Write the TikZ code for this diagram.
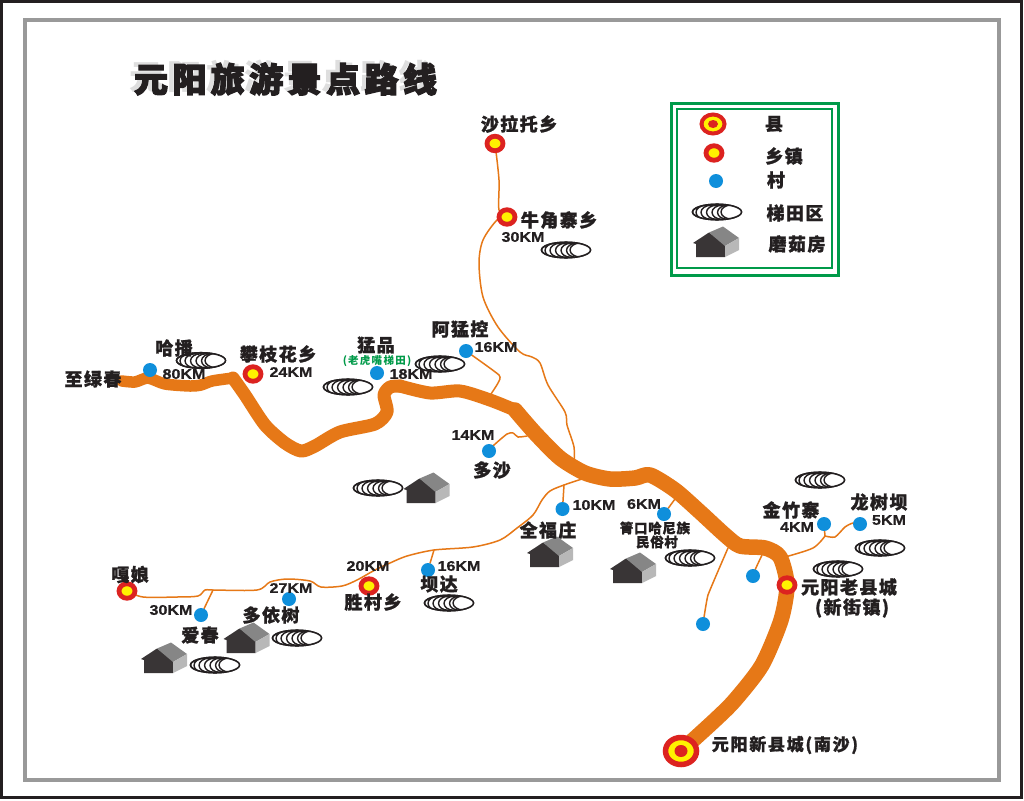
\documentclass[tikz,border=0pt]{standalone}
\usepackage{fontspec}
\usetikzlibrary{shapes.geometric,backgrounds}
\newfontfamily\cjkf{Noto Sans CJK SC}
\newfontfamily\cjkblack{Noto Sans CJK SC Black}
\newfontfamily\kmf[FakeStretch=1.15]{Liberation Sans}
\definecolor{roadc}{HTML}{E67817}
\definecolor{redc}{HTML}{DC2320}
\definecolor{yelc}{HTML}{FFF200}
\definecolor{bluec}{HTML}{0F8FDB}
\definecolor{greenc}{HTML}{009A49}
\definecolor{inkc}{HTML}{231F20}
\tikzset{
  x=1pt,y=-1pt,
  lab/.style={inner sep=0,text=inkc,font=\cjkf\bfseries\fontsize{18}{18}\selectfont\addfontfeature{LetterSpace=8,FakeBold=1.2}},
  labs/.style={lab,font=\cjkf\bfseries\fontsize{13.5}{14}\selectfont\addfontfeature{LetterSpace=5,FakeBold=1}},
  km/.style={inner sep=0,text=inkc,font=\kmf\bfseries\fontsize{14}{14}\selectfont\addfontfeature{FakeBold=.6}},
  vill/.style={ellipse,fill=bluec,minimum width=14,minimum height=14,inner sep=0},
  town/.style={ellipse,draw=redc,fill=yelc,line width=4.8,minimum width=16,minimum height=14.5,inner sep=0},
  road/.style={draw=roadc,line width=1.5,line cap=round,line join=round},
  mainroad/.style={draw=roadc,line join=round,line cap=round},
  terrace/.pic={
    \draw[inkc,line width=1.5,fill=white] (0,0) ellipse [x radius=24.5,y radius=7.8];
    \begin{scope}
      \clip (0,0) ellipse [x radius=24.5,y radius=7.8];
      \foreach \l in {-21,-16,-10.5,-5,0.5}
        \draw[inkc,line width=1.4,fill=white] (\l+10,0.3) ellipse [x radius=10,y radius=7];
      \draw[inkc,line width=1.4,fill=white] (14.5,0) ellipse [x radius=10.5,y radius=7];
    \end{scope}
    \draw[inkc,line width=1.5] (0,0) ellipse [x radius=24.5,y radius=7.8];
  },
  house/.pic={
    \fill[inkc!90!white] (-23,1)--(-7,-9.5)--(9,2)--(9,15)--(-20,15)--(-20,2)--cycle;
    \fill[gray!95] (-7,-9.5)--(7,-15.5)--(23,-4)--(9,4)--cycle;
    \fill[black!28] (9,4)--(23,-4)--(23,8)--(9,15)--cycle;
  }
}
\begin{document}
\begin{tikzpicture}
\useasboundingbox (0,0) rectangle (1024,800);
% legend
\draw[greenc,line width=3] (671,103) rectangle (838,275);
\draw[greenc,line width=2.4] (677,109) rectangle (832,268);
\node[ellipse,draw=redc,fill=yelc,line width=4,minimum width=23,minimum height=19,inner sep=0] (lgc) at (713,124) {};
\node[ellipse,fill=redc,minimum width=10,minimum height=8,inner sep=0] (lgci) at (lgc) {};
\node[town] (lgt) at (714,153) {};
\node[vill] (lgv) at (716,181) {};
\pic at (717,212) {terrace};
\pic at (716,242) {house};
\node[lab] (l1) at (774,124) {县};
\node[lab] (l2) at (784,156) {乡镇};
\node[lab] (l3) at (776,180) {村};
\node[lab] (l4) at (795,213) {梯田区};
\node[lab] (l5) at (797,244) {磨茹房};
% title
\node[inner sep=0,text=black!13,font=\cjkblack\fontsize{34}{34}\selectfont\addfontfeature{LetterSpace=13}] (tts) at (281,76) {元阳旅游景点路线};
\node[inner sep=0,text=inkc,font=\cjkblack\fontsize{34}{34}\selectfont\addfontfeature{LetterSpace=13,FakeBold=3.5}] (tt) at (285.5,79) {元阳旅游景点路线};
% towns
\node[town] (panzhi) at (253,374) {};
\node[town] (shala) at (495,143.5) {};
\node[town] (niujiao) at (507,217) {};
\node[town] (galiang) at (127,591) {};
\node[town] (shengcun) at (369,586) {};
\node[town] (laoxian) at (787,585) {};
\node[ellipse,draw=redc,fill=yelc,line width=5.5,minimum width=31,minimum height=27,inner sep=0] (xinxian) at (681,751) {};
\node[ellipse,fill=redc,minimum width=13,minimum height=12,inner sep=0] (xinxiani) at (xinxian) {};
% villages
\node[vill] (habo) at (150,370) {};
\node[vill] (mengpin) at (377,373) {};
\node[vill] (ameng) at (466,351) {};
\node[vill] (duosha) at (489,451) {};
\node[vill] (quanfu) at (562.5,509) {};
\node[vill] (qingkou) at (664,514) {};
\node[vill] (jinzhu) at (824,524) {};
\node[vill] (longshu) at (860,524) {};
\node[vill] (va) at (753,576) {};
\node[vill] (vb) at (703,624) {};
\node[vill] (aichun) at (201,615) {};
\node[vill] (duoyi) at (289,599) {};
\node[vill] (bada) at (428,570) {};
% free ends
\coordinate (lvchun) at (122,381);
\coordinate (m1) at (233,378);
\coordinate (m2) at (400,386);
\coordinate (j1) at (574,462);
\coordinate (j2) at (491,394);
\coordinate (j3) at (527,436);
\coordinate (j4) at (585,478);
\coordinate (j5) at (675,499);
\coordinate (j6) at (762,555);
\coordinate (j7) at (728,548);
\coordinate (j8) at (785,557);
\coordinate (k1) at (564,485);
\coordinate (k2) at (434,550);
\coordinate (k3) at (213,590);
\coordinate (k4) at (825,536);
% roads
\begin{scope}[on background layer]
\fill[white] (0,0) rectangle (1024,800);
\draw[inkc,line width=3.2] (1.6,1.6) rectangle (1021.5,797.5);
\draw[black!40,line width=3.4] (25,20) rectangle (999,780);
\draw[mainroad,line width=11.5] plot[smooth,tension=.45] coordinates {(lvchun) (135,382) (148,378) (165,384) (190,386) (201,385) (212,381) (m1)};
\draw[mainroad,line width=13] plot[smooth,tension=.45] coordinates {(m1) (245,395) (265,425) (285,443) (301,451) (315,446) (340,432) (375,424) (387,412) (384,395) (390,387) (m2)};
\draw[mainroad,line width=13] plot[smooth,tension=.45] coordinates {(m2) (430,393) (460,391) (490,400) (515,410)};
\draw[mainroad,line width=15.5] plot[smooth,tension=.45] coordinates {(515,410) (535,433) (560,458) (585,473) (610,479) (635,478) (650,475) (675,490) (700,512) (725,535) (740,546) (765,548) (780,557) (787,585) (781,620) (762,665) (735,700) (715,720) (xinxian)};
\draw[road] plot[smooth,tension=.5] coordinates {(shala) (499,180) (499,210) (niujiao)};
\draw[road] plot[smooth,tension=.5] coordinates {(niujiao) (497,220) (483,240) (479,263) (483,297) (498,327) (520,352) (532,357) (540,363) (548,385) (565,412) (567,425) (574,447) (j1)};
\draw[road] plot[smooth,tension=.3] coordinates {(ameng) (499,375) (498,383) (j2)};
\draw[road] plot[smooth,tension=.4] coordinates {(duosha) (494,445) (507,434) (513,433) (518,437) (j3)};
\draw[road] plot[smooth,tension=.5] coordinates {(j4) (k1) (550,491) (542,500) (533,515) (517,528) (500,540) (473,547) (k2) (407,556) (390,563) (375,570) (357,580) (342,586) (321,587) (310,581) (287,579) (270,582) (257,590) (k3) (205,590) (198,596) (177,597) (143,597) (galiang)};
\draw[road] (k1) -- (quanfu);
\draw[road] (j5) -- (qingkou);
\draw[road] (k2) -- (bada);
\draw[road] (k3) -- (aichun);
\draw[road] plot[smooth,tension=.5] coordinates {(j6) (755,570) (va)};
\draw[road] plot[smooth,tension=.2] coordinates {(j7) (708,595) (vb)};
\draw[road] plot[smooth,tension=.5] coordinates {(j8) (813,548) (k4)};
\draw[road] (k4) -- (jinzhu);
\draw[road] plot[smooth,tension=.4] coordinates {(k4) (835,537) (845,527) (853,523) (longshu)};
\end{scope}
% terraces
\foreach \p in {(201,360.5),(348,387),(440,364),(378,488),(566,250),(690,558),(820,480),(880,548),(838,569),(449,603),(297,638),(215,665)}
  \pic at \p {terrace};
% houses
\foreach \p in {(426.5,488),(550,552),(633,568),(246.5,638),(164,658)}
  \pic at \p {house};
% place names
\node[lab] (n1) at (93,379) {至绿春};
\node[lab] (n2) at (174,348) {哈播};
\node[lab] (n3) at (278,354) {攀枝花乡};
\node[lab] (n4) at (376,345) {猛品};
\node[inner sep=0,text=greenc,font=\cjkf\bfseries\fontsize{10.5}{11}\selectfont\addfontfeature{LetterSpace=12}] (n5) at (377,361) {(老虎嘴梯田)};
\node[lab] (n6) at (460,329) {阿猛控};
\node[lab] (n7) at (492,470) {多沙};
\node[lab] (n8) at (519,124) {沙拉托乡};
\node[lab] (n9) at (559,220) {牛角寨乡};
\node[lab] (n10) at (548,530) {全福庄};
\node[labs] (n11) at (655,528) {箐口哈尼族};
\node[labs] (n12) at (657,542) {民俗村};
\node[lab] (n13) at (791,510) {金竹寨};
\node[lab] (n14) at (879,502) {龙树坝};
\node[lab] (n15) at (849,587) {元阳老县城};
\node[lab] (n16) at (852,608) {(新街镇)};
\node[lab] (n17) at (130,574.5) {嘎娘};
\node[lab] (n18) at (200,635) {爱春};
\node[lab] (n19) at (271,615) {多依树};
\node[lab] (n20) at (373,602) {胜村乡};
\node[lab] (n21) at (439,584) {坝达};
\node[lab,font=\cjkf\bfseries\fontsize{17}{17}\selectfont\addfontfeature{LetterSpace=10,FakeBold=1}] (n22) at (785,745) {元阳新县城(南沙)};
% distances
\node[km] (d1) at (184,374) {80KM};
\node[km] (d2) at (291,372) {24KM};
\node[km] (d3) at (411,374) {18KM};
\node[km] (d4) at (496,347) {16KM};
\node[km] (d5) at (473,435) {14KM};
\node[km] (d6) at (523,237) {30KM};
\node[km] (d7) at (594,505) {10KM};
\node[km] (d8) at (644,504) {6KM};
\node[km] (d9) at (797,527) {4KM};
\node[km] (d10) at (889,520) {5KM};
\node[km] (d11) at (171,610) {30KM};
\node[km] (d12) at (291,588) {27KM};
\node[km] (d13) at (368,566) {20KM};
\node[km] (d14) at (459,566) {16KM};
\end{tikzpicture}
\end{document}
